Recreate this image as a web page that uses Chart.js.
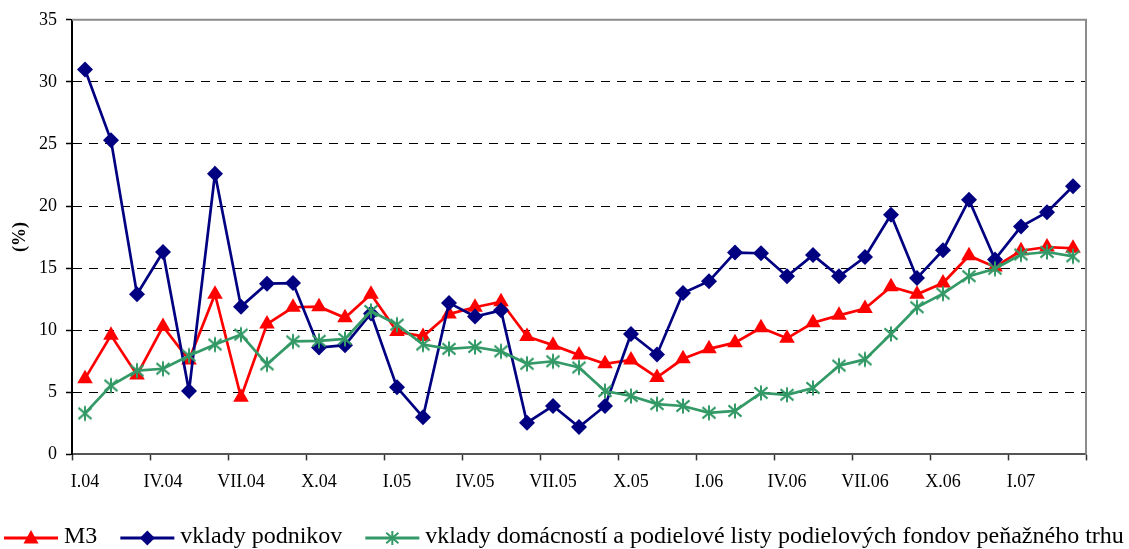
<!DOCTYPE html>
<html>
<head>
<meta charset="utf-8">
<script src="https://cdn.jsdelivr.net/npm/chart.js@4/dist/chart.umd.min.js"></script>
<style>
  body { margin: 0; background: #fff; }
  canvas { display: block; }
</style>
</head>
<body>
<canvas id="chart" width="1129" height="549"></canvas>
<script>
const months = [
  'I.04', 'II.04', 'III.04', 'IV.04', 'V.04', 'VI.04', 'VII.04', 'VIII.04', 'IX.04', 'X.04', 'XI.04', 'XII.04',
  'I.05', 'II.05', 'III.05', 'IV.05', 'V.05', 'VI.05', 'VII.05', 'VIII.05', 'IX.05', 'X.05', 'XI.05', 'XII.05',
  'I.06', 'II.06', 'III.06', 'IV.06', 'V.06', 'VI.06', 'VII.06', 'VIII.06', 'IX.06', 'X.06', 'XI.06', 'XII.06',
  'I.07', 'II.07', 'III.07'
];
const tickLabels = ['I.04', 'IV.04', 'VII.04', 'X.04', 'I.05', 'IV.05', 'VII.05', 'X.05', 'I.06', 'IV.06', 'VII.06', 'X.06', 'I.07'];

const m3 = [6.1, 9.6, 6.4, 10.3, 7.6, 12.9, 4.6, 10.5, 11.85, 11.9, 11.0, 12.9,
  9.9, 9.5, 11.3, 11.85, 12.3, 9.5, 8.8, 8.0, 7.3, 7.6, 6.2, 7.7,
  8.5, 9.0, 10.2, 9.35, 10.6, 11.2, 11.75, 13.5, 12.9, 13.8, 16.0, 15.1,
  16.4, 16.7, 16.6];
const vkladyPodnikov = [31.0, 25.3, 12.9, 16.3, 5.1, 22.6, 11.9, 13.75, 13.8, 8.6, 8.8, 11.35,
  5.4, 3.0, 12.2, 11.1, 11.6, 2.55, 3.9, 2.2, 3.9, 9.7, 8.05, 13.0,
  13.95, 16.25, 16.2, 14.35, 16.05, 14.35, 15.9, 19.3, 14.2, 16.45, 20.5, 15.7,
  18.35, 19.5, 21.6];
const vkladyDomacnosti = [3.3, 5.55, 6.75, 6.9, 7.95, 8.85, 9.65, 7.25, 9.1, 9.15, 9.3, 11.55,
  10.45, 8.85, 8.5, 8.65, 8.3, 7.3, 7.5, 7.0, 5.1, 4.7, 4.05, 3.9,
  3.35, 3.5, 4.95, 4.8, 5.35, 7.15, 7.65, 9.7, 11.85, 12.95, 14.35, 14.95,
  16.1, 16.3, 15.95];

const RED = '#ff0000';
const NAVY = '#000080';
const GREEN = '#339966';
const FONT = "'Liberation Serif', 'Times New Roman', serif";

// asterisk marker (vertical line + X), like the Excel one
function drawStar(ctx, x, y, r, color) {
  ctx.strokeStyle = color;
  ctx.lineWidth = 2;
  ctx.beginPath();
  ctx.moveTo(x, y - r); ctx.lineTo(x, y + r);
  ctx.moveTo(x - r * 0.87, y - r * 0.75); ctx.lineTo(x + r * 0.87, y + r * 0.75);
  ctx.moveTo(x + r * 0.87, y - r * 0.75); ctx.lineTo(x - r * 0.87, y + r * 0.75);
  ctx.stroke();
}

function makeStar() {
  const c = document.createElement('canvas');
  c.width = 18; c.height = 18;
  drawStar(c.getContext('2d'), 9, 9, 7.5, GREEN);
  return c;
}

function drawSwatch(ctx, x, y, color, marker) {
  ctx.strokeStyle = color;
  ctx.lineWidth = 3;
  ctx.beginPath();
  ctx.moveTo(x, y); ctx.lineTo(x + 54, y);
  ctx.stroke();
  const cx = x + 27;
  ctx.fillStyle = color;
  if (marker === 'triangle') {
    ctx.beginPath();
    ctx.moveTo(cx, y - 8); ctx.lineTo(cx + 7.5, y + 5.5); ctx.lineTo(cx - 7.5, y + 5.5);
    ctx.closePath(); ctx.fill();
  } else if (marker === 'diamond') {
    ctx.beginPath();
    ctx.moveTo(cx, y - 7.5); ctx.lineTo(cx + 7.5, y); ctx.lineTo(cx, y + 7.5); ctx.lineTo(cx - 7.5, y);
    ctx.closePath(); ctx.fill();
  } else {
    drawStar(ctx, cx, y, 7, color);
  }
}

const legendMarkers = ['triangle', 'diamond', 'star'];

// legend drawn by hand so that it stays on one line, like the original
const bottomLegend = {
  id: 'bottomLegend',
  afterDraw(chart) {
    const ctx = chart.ctx;
    const y = 537;
    let x = 4;
    ctx.save();
    ctx.font = '24px ' + FONT;
    ctx.textBaseline = 'middle';
    chart.data.datasets.forEach((ds, i) => {
      drawSwatch(ctx, x, y + 1, ds.borderColor, legendMarkers[i]);
      x += 60;
      ctx.fillStyle = '#000';
      ctx.fillText(ds.label, x, y);
      x += ctx.measureText(ds.label).width + 23;
    });
    ctx.restore();
  }
};

const plotBorder = {
  id: 'plotBorder',
  beforeDatasetsDraw(chart) {
    const { ctx, chartArea: a } = chart;
    ctx.save();
    ctx.strokeStyle = '#8c8c8c';
    ctx.lineWidth = 2;
    ctx.beginPath();
    ctx.moveTo(a.left, a.top);
    ctx.lineTo(a.right, a.top);
    ctx.lineTo(a.right, a.bottom);
    ctx.stroke();
    ctx.restore();
  }
};

new Chart(document.getElementById('chart'), {
  type: 'line',
  data: {
    labels: months,
    datasets: [
      {
        label: 'M3',
        data: m3,
        borderColor: RED,
        backgroundColor: RED,
        borderWidth: 2.7,
        pointStyle: 'triangle',
        pointRadius: 9,
        pointBorderWidth: 0,
        tension: 0,
        order: 3
      },
      {
        label: 'vklady podnikov',
        data: vkladyPodnikov,
        borderColor: NAVY,
        backgroundColor: NAVY,
        borderWidth: 2.7,
        pointStyle: 'rectRot',
        pointRadius: 8,
        pointBorderWidth: 0,
        tension: 0,
        order: 2
      },
      {
        label: 'vklady domácností a podielové listy podielových fondov peňažného trhu',
        data: vkladyDomacnosti,
        borderColor: GREEN,
        backgroundColor: GREEN,
        borderWidth: 2.7,
        pointStyle: makeStar(),
        pointRadius: 8,
        tension: 0,
        order: 1
      }
    ]
  },
  options: {
    responsive: false,
    animation: false,
    devicePixelRatio: 1,
    layout: { padding: { left: 0, right: 43, top: 19, bottom: 45 } },
    plugins: {
      tooltip: { enabled: false },
      legend: { display: false }
    },
    scales: {
      x: {
        offset: true,
        grid: {
          offset: true,
          drawOnChartArea: false,
          tickLength: 6,
          tickWidth: 1.5,
          tickColor: (c) => (c.type !== 'tick' || c.index % 3 === 0) ? '#333' : 'rgba(0,0,0,0)'
        },
        border: { color: '#555', width: 2 },
        ticks: {
          autoSkip: false,
          maxRotation: 0,
          padding: 11,
          color: '#000',
          font: { family: FONT, size: 18 },
          callback(value, index) {
            const lab = months[index];
            return tickLabels.includes(lab) ? lab : '';
          }
        }
      },
      y: {
        min: 0,
        max: 35,
        afterFit(scale) { scale.width = 72; },
        title: {
          display: true,
          text: '(%)',
          color: '#000',
          font: { family: FONT, size: 18, weight: 'bold' },
          padding: { top: 10, bottom: 0 }
        },
        grid: {
          color: (c) => (c.tick && c.tick.value > 0 && c.tick.value < 35) ? '#000' : 'rgba(0,0,0,0)',
          lineWidth: 1,
          tickLength: 6,
          tickColor: '#000',
          tickWidth: 1.5
        },
        border: { color: '#000', width: 2, dash: [9, 7] },
        ticks: {
          stepSize: 5,
          padding: 9,
          color: '#000',
          font: { family: FONT, size: 18 }
        }
      }
    }
  },
  plugins: [plotBorder, bottomLegend]
});
</script>
</body>
</html>
